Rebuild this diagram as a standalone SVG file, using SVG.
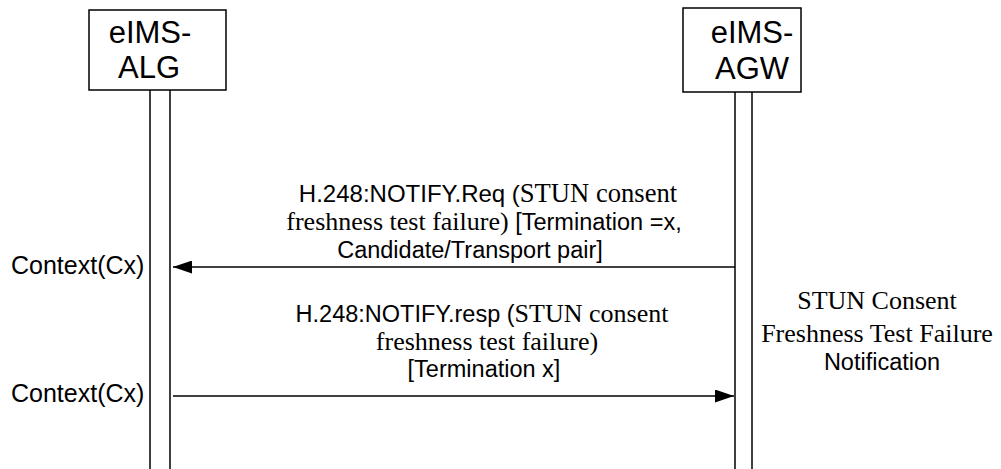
<svg xmlns="http://www.w3.org/2000/svg" width="1001" height="469" viewBox="0 0 1001 469">
<defs>
<style>
.box{fill:#fff;stroke:#000;stroke-width:1.5}
.life{stroke:#000;stroke-width:1.5;fill:none}
.msg{stroke:#000;stroke-width:1.5;fill:none}
.a{font-family:"Liberation Sans",Arial,sans-serif;fill:#000}
.t{font-family:"Liberation Serif","Times New Roman",serif;fill:#000}
.title{font-size:31px}
.lbl{font-size:23.5px}
.tl{font-size:26px}
.ctx{font-size:25px}
</style>
<marker id="ah" markerWidth="19" markerHeight="13" refX="19" refY="6.5" orient="auto" markerUnits="userSpaceOnUse">
<path d="M0,0 L19,6.5 L0,13 Z" fill="#000"/>
</marker>
</defs>
<rect width="1001" height="469" fill="#fff"/>
<g id="alg">
<rect class="box" x="89" y="10" width="137" height="80"/>
<text class="a title" x="150" y="43" text-anchor="middle">eIMS-</text>
<text class="a title" x="149" y="78" text-anchor="middle">ALG</text>
<line class="life" x1="150" y1="90" x2="150" y2="469"/>
<line class="life" x1="170" y1="90" x2="170" y2="469"/>
</g>
<g id="agw">
<rect class="box" x="683" y="8" width="118" height="84"/>
<text class="a title" x="752" y="43" text-anchor="middle">eIMS-</text>
<text class="a title" x="752" y="79" text-anchor="middle">AGW</text>
<line class="life" x1="735" y1="92" x2="735" y2="469"/>
<line class="life" x1="752" y1="92" x2="752" y2="469"/>
</g>
<g id="ctx1"><text class="a ctx" x="11" y="274">Context(Cx)</text></g>
<g id="ctx2"><text class="a ctx" x="11" y="402">Context(Cx)</text></g>
<g id="note">
<text class="t tl" x="877" y="309" text-anchor="middle">STUN Consent</text>
<text class="t tl" x="877" y="342" text-anchor="middle">Freshness Test Failure</text>
<text class="a lbl" x="882" y="370" text-anchor="middle">Notification</text>
</g>
<g id="connectors">
<line class="msg" x1="735" y1="267" x2="173" y2="267" marker-end="url(#ah)"/>
<line class="msg" x1="173" y1="396" x2="734" y2="396" marker-end="url(#ah)"/>
</g>
<g id="labels">
<text x="488" y="202" text-anchor="middle"><tspan class="a" font-size="24">H.248:NOTIFY.Req (</tspan><tspan class="t" font-size="26.6">STUN consent</tspan></text>
<text x="484" y="230" text-anchor="middle"><tspan class="t tl">freshness test failure) </tspan><tspan class="a lbl">[Termination =x,</tspan></text>
<text class="a lbl" x="470" y="258" text-anchor="middle">Candidate/Transport pair]</text>
<text x="482" y="322" text-anchor="middle"><tspan class="a lbl">H.248:NOTIFY.resp (</tspan><tspan class="t tl">STUN consent</tspan></text>
<text class="t tl" x="487" y="350" text-anchor="middle">freshness test failure)</text>
<text class="a lbl" x="484" y="377" text-anchor="middle">[Termination x]</text>
</g>
</svg>
